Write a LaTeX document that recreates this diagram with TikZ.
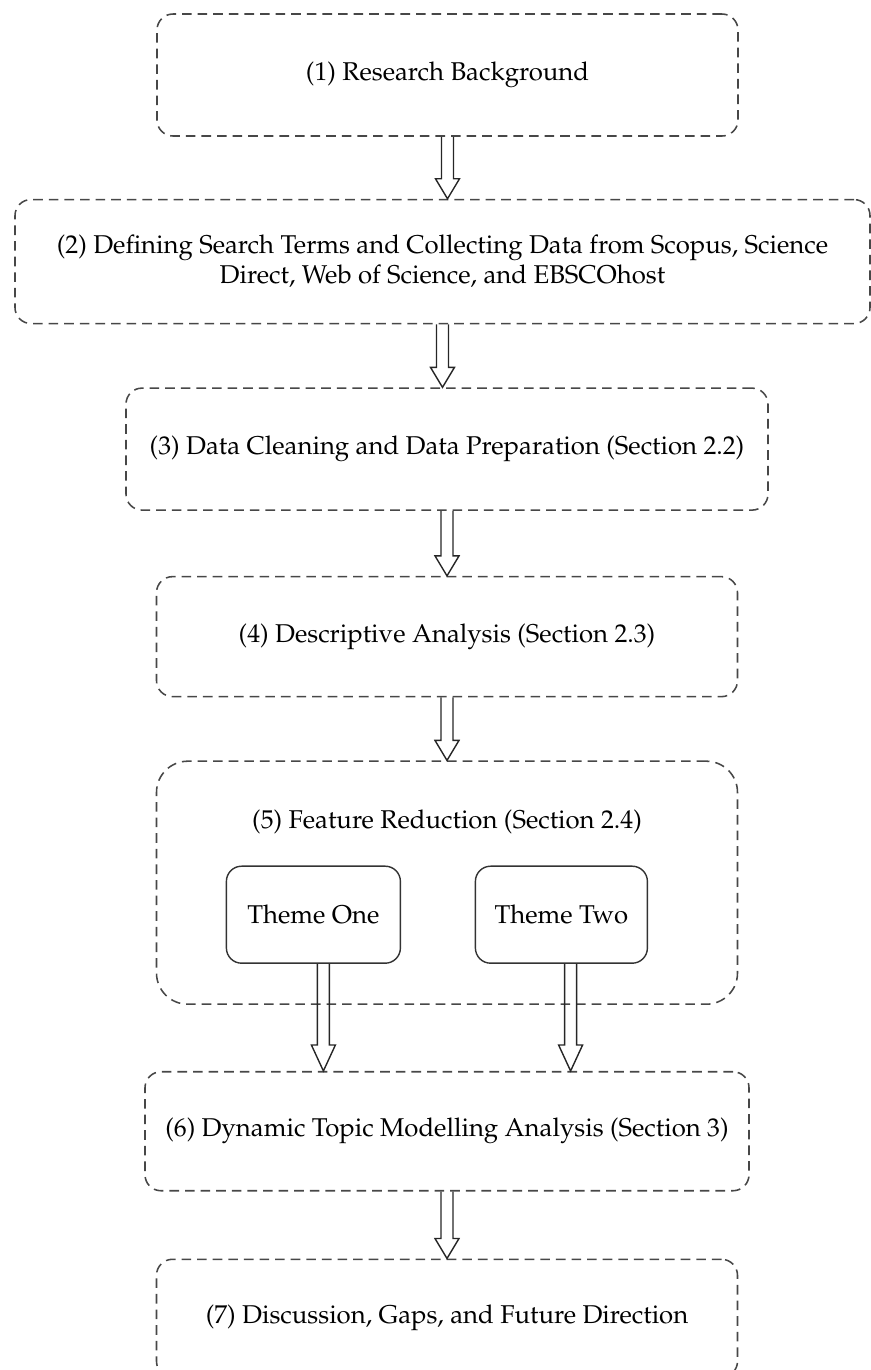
\documentclass[tikz,border=0pt]{standalone}
\usepackage[T1]{fontenc}
\usepackage{mathpazo}
\usetikzlibrary{positioning,calc}
\newcommand\stagefont{\fontsize{18.3}{21.3}\selectfont}
\tikzset{
  stage/.style={draw=black!72, dash pattern=on 0.24cm off 0.15cm, line width=1.1pt, rounded corners=0.4cm, minimum width=14.525cm, minimum height=3.05cm, align=center, font=\stagefont},
  theme/.style={draw=black!80, line width=1pt, rounded corners=0.38cm, minimum width=4.35cm, minimum height=2.425cm, align=center, font=\stagefont},
  hollow/.style={draw=black!85, line width=1pt, line join=miter}
}
% open block arrow: start, tip, head length
\newcommand\hollowarrow[3]{%
  \draw[hollow] ($(#1)+(-0.15,0)$) -- ($(#2)+(-0.15,#3)$) -- ($(#2)+(-0.3,#3)$) -- (#2)
    -- ($(#2)+(0.3,#3)$) -- ($(#2)+(0.15,#3)$) -- ($(#1)+(0.15,0)$);}

\begin{document}
\begin{tikzpicture}
  \useasboundingbox (0,0) rectangle (21.775,-34.25);

  \node[stage] (bg) at (11.1875,-1.875) {(1) Research Background};
  \node[stage, minimum width=21.375cm, minimum height=3.1cm, below=1.55cm of bg, xshift=-0.125cm] (search)
    {(2) Defining Search Terms and Collecting Data from Scopus, Science\\Direct, Web of Science, and EBSCOhost};
  \node[stage, minimum width=16.05cm, below=1.575cm of search, xshift=0.1125cm] (clean)
    {(3) Data Cleaning and Data Preparation (Section 2.2)};
  \node[stage, minimum height=3cm, below=1.625cm of clean] (desc) {(4) Descriptive Analysis (Section 2.3)};
  \node[stage, minimum height=6.075cm, rounded corners=0.78cm, below=1.575cm of desc] (feat) {};
  \node[font=\stagefont] (feattitle) at ([yshift=1.51cm]feat.center) {(5) Feature Reduction (Section 2.4)};
  \node[theme] (one) at ([xshift=-3.34cm,yshift=-0.8cm]feat.center) {Theme One};
  \node[theme, minimum width=4.3cm] (two) at ([xshift=2.86cm,yshift=-0.8cm]feat.center) {Theme Two};
  \node[stage, minimum width=15.1cm, minimum height=2.975cm, below=1.65cm of feat] (topic)
    {(6) Dynamic Topic Modelling Analysis (Section 3)};
  \node[stage, minimum height=2.95cm, below=1.675cm of topic] (disc) {(7) Discussion, Gaps, and Future Direction};

  \coordinate (oneout) at ([xshift=0.25cm]one.south);
  \coordinate (twoout) at ([xshift=0.23cm]two.south);
  \coordinate (onein) at (oneout |- topic.north);
  \coordinate (twoin) at (twoout |- topic.north);

  \hollowarrow{bg.south}{bg.south |- search.north}{0.5}
  \hollowarrow{search.south}{search.south |- clean.north}{0.5}
  \hollowarrow{clean.south}{clean.south |- desc.north}{0.5}
  \hollowarrow{desc.south}{desc.south |- feat.north}{0.5}
  \hollowarrow{oneout}{onein}{0.65}
  \hollowarrow{twoout}{twoin}{0.65}
  \hollowarrow{topic.south}{topic.south |- disc.north}{0.5}
\end{tikzpicture}
\end{document}
